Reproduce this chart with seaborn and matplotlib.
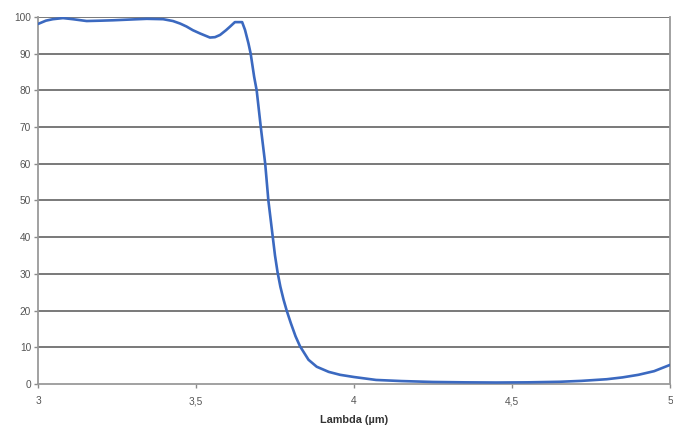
import numpy as np
import pandas as pd
import seaborn as sns
import matplotlib.pyplot as plt
from matplotlib.ticker import FuncFormatter

# Transmission curve
lam = [3.0, 3.025, 3.047, 3.079, 3.11, 3.154, 3.2, 3.237, 3.29, 3.344, 3.396,
       3.427, 3.45, 3.47, 3.49, 3.513, 3.544, 3.56, 3.576, 3.595, 3.608,
       3.623, 3.646, 3.655, 3.666, 3.673, 3.684, 3.692, 3.705, 3.719, 3.729,
       3.743, 3.75, 3.758, 3.767, 3.777, 3.787, 3.8, 3.815, 3.829, 3.856,
       3.882, 3.92, 3.956, 4.0, 4.07, 4.15, 4.25, 4.35, 4.45, 4.55, 4.65,
       4.72, 4.8, 4.85, 4.9, 4.95, 5.0]
trans = [98.1, 99.0, 99.4, 99.7, 99.4, 98.9, 99.0, 99.1, 99.3, 99.5, 99.4,
         98.9, 98.2, 97.4, 96.4, 95.5, 94.4, 94.5, 95.1, 96.4, 97.4,
         98.6, 98.6, 96.5, 92.8, 90.0, 83.7, 80.0, 70.0, 60.0, 50.0,
         40.0, 35.0, 30.5, 26.5, 23.0, 20.0, 16.6, 13.0, 10.3, 6.6,
         4.7, 3.3, 2.5, 1.9, 1.1, 0.8, 0.55, 0.45, 0.4, 0.45, 0.6,
         0.85, 1.3, 1.8, 2.5, 3.5, 5.2]
x_ticks = [3, 3.5, 4, 4.5, 5]
y_ticks = list(range(0, 101, 10))

df = pd.DataFrame({'lambda': lam, 'T': trans})

sns.set_style('white')
plt.rcParams['font.family'] = ['Liberation Sans', 'DejaVu Sans']

fig = plt.figure(figsize=(6.73, 4.30), dpi=100)
ax = fig.add_axes([0.0565, 0.107, 0.939, 0.8535])

# horizontal grid lines
for y in y_ticks[1:]:
    ax.axhline(y, color='#6e6e6e', lw=1.3, zorder=1)

sns.lineplot(data=df, x='lambda', y='T', ax=ax, color='#3b69c0', lw=1.9,
             sort=True, zorder=3)

ax.set_xlim(3, 5)
ax.set_ylim(0, 100)
ax.set_xticks(x_ticks)
ax.set_yticks(y_ticks)
ax.xaxis.set_major_formatter(FuncFormatter(lambda v, p: f'{v:g}'.replace('.', ',')))
ax.tick_params(axis='both', labelsize=7.3, labelcolor='#555555', color='#8a8a8a',
               length=3, width=1, direction='out', bottom=True, left=True)
ax.tick_params(axis='x', pad=6)
ax.tick_params(axis='y', pad=2)

ax.set_xlabel('Lambda (µm)', fontsize=7.8, fontweight='bold', color='#333333',
              labelpad=6)
ax.set_ylabel('')

for side in ['left', 'bottom', 'right']:
    ax.spines[side].set_color('#9a9a9a')
    ax.spines[side].set_linewidth(1.3)
ax.spines['top'].set_visible(False)

fig.savefig('out.png', dpi=100)
